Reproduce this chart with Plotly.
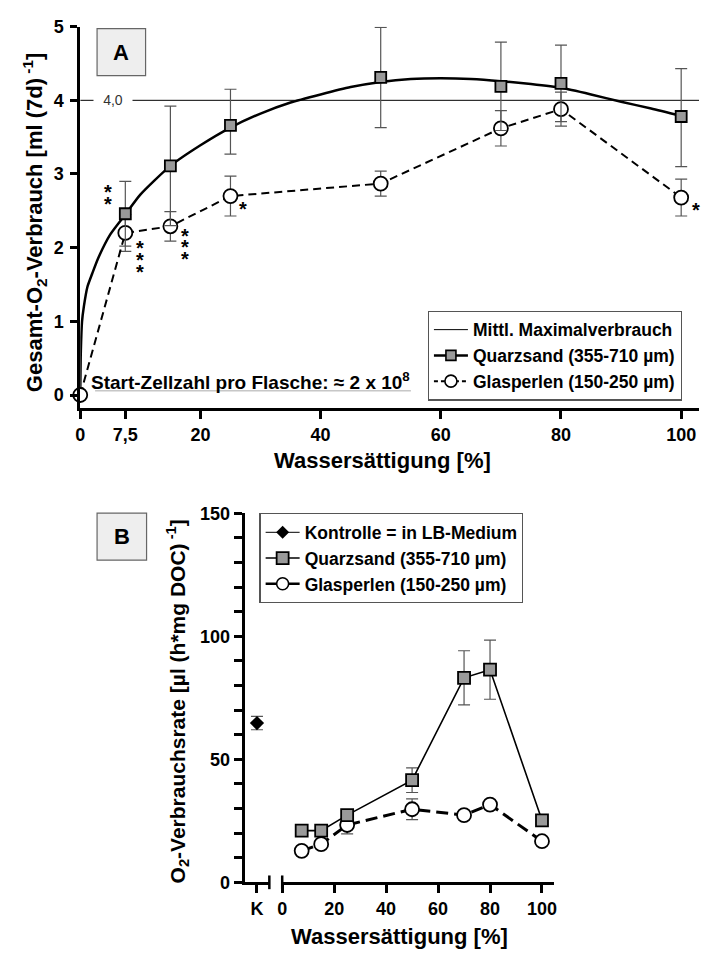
import plotly.graph_objects as go

W, H = 701, 954
FONT = "Liberation Sans"


def px(x):
    return x / W


def py(y):
    return 1 - y / H


# ---------------- Panel A: total O2 consumption ----------------
sat_a = [7.5, 15, 25, 50, 70, 80, 100]
quarz_a = [2.46, 3.11, 3.66, 4.31, 4.19, 4.23, 3.78]
quarz_a_sd_hi = [0.44, 0.81, 0.49, 0.68, 0.60, 0.52, 0.65]
quarz_a_sd_lo = [0.44, 0.81, 0.39, 0.68, 0.60, 0.52, 0.68]

glas_sat_a = [0, 7.5, 15, 25, 50, 70, 80, 100]
glas_a = [0, 2.20, 2.29, 2.70, 2.87, 3.62, 3.88, 2.68]
glas_a_sd = [0, 0.25, 0.20, 0.27, 0.17, 0.24, 0.23, 0.25]

# fitted curve through the quartz-sand data
fit_x = [0, 0.1, 0.3, 0.6, 1.2, 2, 3, 5, 7.5, 10, 15, 20, 25, 30, 35, 40, 45,
         50, 55, 60, 65, 70, 75, 80, 85, 90, 95, 100]
fit_y = [0, 0.6, 1.0, 1.2, 1.47, 1.65, 1.86, 2.18, 2.45, 2.72, 3.11, 3.39, 3.63,
         3.82, 3.97, 4.08, 4.18, 4.25, 4.29, 4.30, 4.29, 4.26, 4.22, 4.17, 4.08,
         3.98, 3.89, 3.79]

max_mean = 4.0
a_xticks = [0, 7.5, 20, 40, 60, 80, 100]
a_xticklabels = ["0", "7,5", "20", "40", "60", "80", "100"]
a_yticks = [0, 1, 2, 3, 4, 5]

# significance stars: (x, y) of each star
stars_a = [(4.7, 2.74), (4.7, 2.58),
           (9.9, 1.98), (9.9, 1.82), (9.9, 1.66),
           (17.4, 2.15), (17.4, 1.99), (17.4, 1.83),
           (27.1, 2.51), (102.4, 2.50)]

# ---------------- Panel B: O2 consumption rate ----------------
sat_b = [7.5, 15, 25, 50, 70, 80, 100]
quarz_b = [21.0, 21.0, 27.3, 41.5, 83.1, 86.4, 25.2]
quarz_b_sd = [0, 0, 0, 5.0, 11.0, 12.0, 0]
glas_b = [12.8, 15.5, 23.3, 29.7, 27.3, 31.6, 16.7]
glas_b_sd = [0, 0, 3.6, 4.2, 0, 0, 0]
kontrolle_b = [64.7]
kontrolle_b_sd = [2.7]
b_xticks = [0, 20, 40, 60, 80, 100]

# axis geometry (pixels)
A_LEFT, A_RIGHT, A_TOP, A_BOTTOM = 76, 701, 17, 407
A_X_PER_UNIT = 6.07
A_Y_PER_UNIT = 75.0
B_LEFT, B_KEND, B_ZERO, B_RIGHT = 242, 267, 280, 555
B_TOP, B_BOTTOM = 514, 891
B_X_PER_UNIT = 2.624

a_xmax = (A_RIGHT - A_LEFT) / A_X_PER_UNIT
a_ymin = -(A_BOTTOM - 393.3) / A_Y_PER_UNIT
b_xmax = (B_RIGHT - B_ZERO) / B_X_PER_UNIT

fig = go.Figure()

ERR = dict(thickness=1.2, color="#555555", width=6)

# --- Panel A traces
fig.add_trace(go.Scatter(
    x=[0, a_xmax], y=[max_mean, max_mean], mode="lines",
    line=dict(color="black", width=1), name="Mittl. Maximalverbrauch",
    xaxis="x", yaxis="y", legend="legend", hoverinfo="skip"))
fig.add_trace(go.Scatter(
    x=fit_x, y=fit_y, mode="lines", line=dict(color="black", width=2.5,
                                             shape="spline", smoothing=0.6),
    showlegend=False, xaxis="x", yaxis="y"))
fig.add_trace(go.Scatter(
    x=glas_sat_a, y=glas_a, mode="lines+markers",
    line=dict(color="black", width=2, dash="8px,5px"),
    marker=dict(symbol="circle", size=14, color="white",
                line=dict(color="black", width=1.8)),
    error_y=dict(type="data", array=glas_a_sd, visible=True, **ERR),
    name="Glasperlen (150-250 µm)", showlegend=False, cliponaxis=False,
    xaxis="x", yaxis="y"))
fig.add_trace(go.Scatter(
    x=sat_a, y=quarz_a, mode="markers",
    marker=dict(symbol="square", size=11, color="#9a9a9a",
                line=dict(color="black", width=1.8)),
    error_y=dict(type="data", symmetric=False, array=quarz_a_sd_hi,
                 arrayminus=quarz_a_sd_lo, visible=True, **ERR),
    name="Quarzsand (355-710 µm)", showlegend=False, cliponaxis=False,
    xaxis="x", yaxis="y"))
# legend entries for panel A
fig.add_trace(go.Scatter(
    x=[None], y=[None], mode="lines+markers",
    line=dict(color="black", width=2.5),
    marker=dict(symbol="square", size=10, color="#9a9a9a",
                line=dict(color="black", width=1.6)),
    name="Quarzsand (355-710 µm)", xaxis="x", yaxis="y", legend="legend"))
fig.add_trace(go.Scatter(
    x=[None], y=[None], mode="lines+markers",
    line=dict(color="black", width=2, dash="4px,3px"),
    marker=dict(symbol="circle", size=12, color="white",
                line=dict(color="black", width=1.6)),
    name="Glasperlen (150-250 µm)", xaxis="x", yaxis="y", legend="legend"))

# --- Panel B traces
fig.add_trace(go.Scatter(
    x=["K"], y=kontrolle_b, mode="markers",
    marker=dict(symbol="diamond", size=11, color="black"),
    error_y=dict(type="data", array=kontrolle_b_sd, visible=True, **ERR),
    showlegend=False, cliponaxis=False, xaxis="x3", yaxis="y2"))
fig.add_trace(go.Scatter(
    x=[None], y=[None], mode="lines+markers",
    line=dict(color="black", width=1),
    marker=dict(symbol="diamond", size=10, color="black"),
    name="Kontrolle = in LB-Medium", xaxis="x3", yaxis="y2", legend="legend2"))
fig.add_trace(go.Scatter(
    x=sat_b, y=glas_b, mode="lines+markers",
    line=dict(color="black", width=3, dash="12px,6px"),
    marker=dict(symbol="circle", size=14, color="white",
                line=dict(color="black", width=1.8)),
    error_y=dict(type="data", array=glas_b_sd, visible=True, **ERR),
    name="Glasperlen (150-250 µm)", showlegend=False, cliponaxis=False,
    xaxis="x2", yaxis="y2"))
fig.add_trace(go.Scatter(
    x=sat_b, y=quarz_b, mode="lines+markers",
    line=dict(color="black", width=1.6),
    marker=dict(symbol="square", size=12, color="#9a9a9a",
                line=dict(color="black", width=1.8)),
    error_y=dict(type="data", array=quarz_b_sd, visible=True, **ERR),
    name="Quarzsand (355-710 µm)", showlegend=True, cliponaxis=False,
    xaxis="x2", yaxis="y2", legend="legend2"))
fig.add_trace(go.Scatter(
    x=[None], y=[None], mode="lines+markers",
    line=dict(color="black", width=2.5),
    marker=dict(symbol="circle", size=12, color="white",
                line=dict(color="black", width=1.6)),
    name="Glasperlen (150-250 µm)", xaxis="x2", yaxis="y2", legend="legend2"))

TICKFONT = dict(family=FONT, size=18, color="black", weight="bold")
AXIS = dict(showgrid=False, zeroline=False, showline=True, linecolor="black",
            linewidth=3, ticks="outside", tickcolor="black", tickwidth=2.5,
            tickfont=TICKFONT)
LEGFONT = dict(family=FONT, size=17.5, color="black", weight="bold")

layout = dict(
    width=W, height=H,
    margin=dict(l=0, r=0, t=0, b=0),
    paper_bgcolor="white", plot_bgcolor="rgba(0,0,0,0)",
    font=dict(family=FONT, size=16, color="black", weight="bold"),
    xaxis=dict(domain=[px(A_LEFT), px(A_RIGHT)], range=[0, a_xmax],
               tickvals=a_xticks, ticktext=a_xticklabels, ticklen=8,
               anchor="y", **AXIS),
    yaxis=dict(domain=[py(A_BOTTOM), py(A_TOP)], range=[a_ymin, 5],
               tickvals=a_yticks, ticklen=7, anchor="x",
               ticklabelstandoff=3, **AXIS),
    xaxis2=dict(domain=[px(B_ZERO), px(B_RIGHT)], range=[0, b_xmax],
                tickvals=b_xticks, ticklen=8, anchor="y2", **AXIS),
    xaxis3=dict(domain=[px(B_LEFT), px(B_KEND)], type="category",
                range=[-0.5, 0.5], ticklen=8, anchor="y2", **AXIS),
    yaxis2=dict(domain=[py(B_BOTTOM), py(B_TOP)], range=[0, 150],
                tickvals=[0, 50, 100, 150], ticklen=8, anchor="x3",
                minor=dict(dtick=10, ticks="outside", ticklen=8,
                           tickwidth=2.5, tickcolor="black"),
                **AXIS),
    legend=dict(x=px(427), y=py(307), xanchor="left", yanchor="top",
                bgcolor="white", bordercolor="#555555", borderwidth=1.2,
                font=LEGFONT, itemwidth=34, tracegroupgap=0,
                traceorder="normal"),
    legend2=dict(x=px(257), y=py(514), xanchor="left", yanchor="top",
                 bgcolor="white", bordercolor="#555555", borderwidth=1.2,
                 font=LEGFONT, itemwidth=34, tracegroupgap=0,
                 traceorder="normal"),
    showlegend=True,
)
fig.update_layout(**layout)

CENTER = dict(xanchor="center", yanchor="middle", showarrow=False)
annotations = []
# axis titles
annotations.append(dict(
    x=px(30), y=py(217), xref="paper", yref="paper", textangle=-90,
    text="Gesamt-O<sub>2</sub>-Verbrauch [ml (7d)<sup> -1</sup>]",
    font=dict(size=22), **CENTER))
annotations.append(dict(
    x=px(381), y=py(460), xref="paper", yref="paper",
    text="Wassersättigung [%]", font=dict(size=22), **CENTER))
annotations.append(dict(
    x=px(174), y=py(706), xref="paper", yref="paper", textangle=-90,
    text="O<sub>2</sub>-Verbrauchsrate [µl (h*mg DOC)<sup> -1</sup>]",
    font=dict(size=21), **CENTER))
annotations.append(dict(
    x=px(398), y=py(946), xref="paper", yref="paper",
    text="Wassersättigung [%]", font=dict(size=22), **CENTER))
# 4,0 label on the reference line
annotations.append(dict(
    x=5.4, y=max_mean, xref="x", yref="y", text="4,0",
    bgcolor="white", width=36,
    font=dict(size=14, color="#333333", weight="normal"), **CENTER))
# cell count note
annotations.append(dict(
    x=px(85), y=py(379), xref="paper", yref="paper", xanchor="left",
    yanchor="middle", showarrow=False,
    text="Start-Zellzahl pro Flasche: ≈ 2 x 10<sup>8</sup>",
    font=dict(size=19)))
# panel letters
annotations.append(dict(
    x=px(117.5), y=py(43), xref="paper", yref="paper", text="A",
    font=dict(size=22), **CENTER))
annotations.append(dict(
    x=px(118), y=py(538), xref="paper", yref="paper", text="B",
    font=dict(size=22), **CENTER))
# significance stars
for sx, sy in stars_a:
    annotations.append(dict(
        x=sx, y=sy, xref="x", yref="y", text="*", yshift=1,
        font=dict(size=20), **CENTER))
fig.update_layout(annotations=annotations)

shapes = [
    # panel letter boxes
    dict(type="rect", xref="paper", yref="paper", x0=px(93), x1=px(142),
         y0=py(67), y1=py(19), fillcolor="#eeeeee",
         line=dict(color="#666666", width=1.2), layer="below"),
    dict(type="rect", xref="paper", yref="paper", x0=px(93), x1=px(143),
         y0=py(562), y1=py(514), fillcolor="#eeeeee",
         line=dict(color="#666666", width=1.2), layer="below"),
    # underline of the cell count note
    dict(type="line", xref="paper", yref="paper", x0=px(91), x1=px(410),
         y0=py(389), y1=py(389), line=dict(color="#aaaaaa", width=1)),
    # axis break marks
    dict(type="line", xref="paper", yref="paper", x0=px(B_KEND), x1=px(B_KEND),
         y0=py(B_BOTTOM + 7), y1=py(B_BOTTOM - 7),
         line=dict(color="black", width=2.5)),
    dict(type="line", xref="paper", yref="paper", x0=px(B_ZERO), x1=px(B_ZERO),
         y0=py(B_BOTTOM + 7), y1=py(B_BOTTOM - 7),
         line=dict(color="black", width=2.5)),
]
fig.update_layout(shapes=shapes)

fig.write_html("out.html")
